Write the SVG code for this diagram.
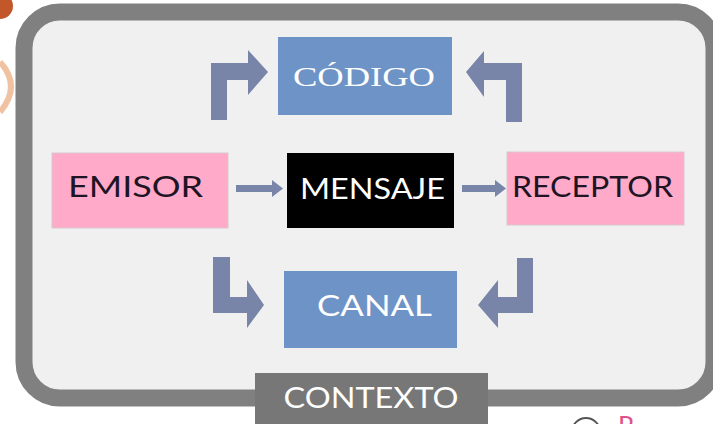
<svg xmlns="http://www.w3.org/2000/svg" width="713" height="424" viewBox="0 0 713 424">
<defs>
<style>
.lbl{font-family:Lato,"Open Sans","Liberation Sans",sans-serif;font-size:28px;text-anchor:middle}
.w{fill:#ffffff}
.d{fill:#1e1424}
.blue{fill:#6e93c6}
.pink{fill:#ffaac8;stroke:#d8c8cc;stroke-width:1}
.arr{fill:#7985a8}
</style>
</defs>
<rect x="0" y="0" width="713" height="424" fill="#ffffff"/>
<!-- outside decorations -->
<circle cx="0" cy="6" r="13" fill="#c2572a"/>
<path d="M0,62 Q22,86 0,112" fill="none" stroke="#f0c2a2" stroke-width="6"/>
<circle cx="586" cy="432" r="14" fill="none" stroke="#555555" stroke-width="2"/>
<text x="618" y="436" font-family="Lato,'Liberation Sans',sans-serif" font-size="26" fill="#e0508a">R</text>
<!-- frame -->
<g id="contexto-frame">
<rect x="24" y="12" width="690" height="386" rx="36" ry="36" fill="#f0f0f0" stroke="#808080" stroke-width="17"/>
</g>
<g id="contexto">
<rect x="255" y="373" width="233" height="60" fill="#777777"/>
<text class="lbl w" x="371" y="408" font-size="25" textLength="175" lengthAdjust="spacingAndGlyphs">CONTEXTO</text>
</g>
<g id="connectors">
<!-- emisor -> mensaje -->
<path class="arr" d="M236,185 H272 V180 L283,188.5 L272,197 V192 H236 Z"/>
<!-- mensaje -> receptor -->
<path class="arr" d="M462,185 H495 V180 L506,188.5 L495,197 V192 H462 Z"/>
<!-- top-left bent arrow up-right into codigo -->
<path class="arr" d="M211,120 V63 H248 V50 L268,72 L248,95 V80 H227 V120 Z"/>
<!-- top-right bent arrow up-left into codigo -->
<path class="arr" d="M522,122 V63 H484 V51 L466,72 L484,97 V80 H506 V122 Z"/>
<!-- bottom-left bent arrow down-right into canal -->
<path class="arr" d="M213,257 V313 H247 V328 L264,305 L247,280 V297 H230 V257 Z"/>
<!-- bottom-right bent arrow down-left into canal -->
<path class="arr" d="M533,258 V313 H498 V328 L478,305 L498,280 V297 H517 V258 Z"/>
</g>
<g id="codigo">
<rect class="blue" x="278" y="37" width="174" height="78"/>
<text class="w" x="364" y="86" font-family="'Liberation Serif',serif" font-size="27" text-anchor="middle" textLength="142" lengthAdjust="spacingAndGlyphs">CÓDIGO</text>
</g>
<g id="emisor">
<rect class="pink" x="52" y="153" width="176" height="75"/>
<text class="lbl d" x="135.5" y="197" font-size="30" textLength="135" lengthAdjust="spacingAndGlyphs">EMISOR</text>
</g>
<g id="mensaje">
<rect x="287" y="153" width="167" height="75" fill="#000000"/>
<text class="lbl w" x="372.5" y="199" font-size="26" textLength="145" lengthAdjust="spacingAndGlyphs">MENSAJE</text>
</g>
<g id="receptor">
<rect class="pink" x="507" y="152" width="177" height="73"/>
<text class="lbl d" x="592.5" y="197" font-size="30" textLength="161" lengthAdjust="spacingAndGlyphs">RECEPTOR</text>
</g>
<g id="canal">
<rect class="blue" x="284" y="271" width="173" height="77"/>
<text class="lbl w" x="374.5" y="316" font-size="29" textLength="115" lengthAdjust="spacingAndGlyphs">CANAL</text>
</g>
</svg>
